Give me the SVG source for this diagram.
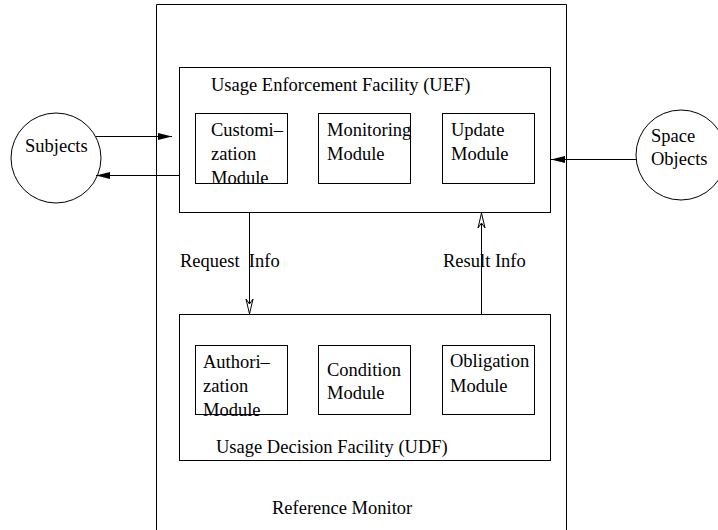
<svg xmlns="http://www.w3.org/2000/svg" width="718" height="530" viewBox="0 0 718 530">
<style>
  text { font-family: "Liberation Serif", "Times New Roman", serif; font-size: 18.5px; fill: #000; }
  .box { fill: none; stroke: #000; stroke-width: 1; }
  .ln { fill: none; stroke: #000; stroke-width: 1; }
</style>
<defs>
  <marker id="solid" viewBox="-15 -5 16 10" refX="0" refY="0" markerWidth="16" markerHeight="10" markerUnits="userSpaceOnUse" orient="auto">
    <path d="M-14,-3.5 L0,0 L-14,3.5 Z" fill="#000"/>
  </marker>
  <marker id="open" viewBox="-16 -5 17 10" refX="0" refY="0" markerWidth="17" markerHeight="10" markerUnits="userSpaceOnUse" orient="auto">
    <path d="M-15,-3.5 L0,0 L-15,3.5 L-10,0 Z" fill="#fff" stroke="#000" stroke-width="1"/>
  </marker>
</defs>
<rect width="718" height="530" fill="#fff"/>

<g id="reference-monitor">
  <path class="box" d="M156.5,540 V4.5 H566.5 V540"/>
  <text x="272" y="514">Reference Monitor</text>
</g>

<g id="subjects">
  <circle class="box" cx="56" cy="158" r="45"/>
  <text x="25" y="152">Subjects</text>
</g>

<g id="space-objects">
  <circle class="box" cx="681" cy="155" r="45"/>
  <text x="651" y="142">Space</text>
  <text x="651" y="165">Objects</text>
</g>

<g id="uef">
  <rect class="box" x="179.5" y="67.5" width="371" height="145"/>
  <text x="211" y="91">Usage Enforcement Facility (UEF)</text>
</g>

<g id="customization-module">
  <rect class="box" x="195.5" y="113.5" width="92" height="70"/>
  <text x="211" y="136">Customi–</text>
  <text x="211" y="160">zation</text>
  <text x="211" y="184">Module</text>
</g>

<g id="monitoring-module">
  <rect class="box" x="318.5" y="113.5" width="92" height="70"/>
  <text x="327" y="136">Monitoring</text>
  <text x="327" y="160">Module</text>
</g>

<g id="update-module">
  <rect class="box" x="442.5" y="113.5" width="92" height="70"/>
  <text x="451" y="136">Update</text>
  <text x="451" y="160">Module</text>
</g>

<g id="udf">
  <rect class="box" x="179.5" y="314.5" width="371" height="146"/>
  <text x="216" y="453">Usage Decision Facility (UDF)</text>
</g>

<g id="authorization-module">
  <rect class="box" x="195.5" y="345.5" width="92" height="69"/>
  <text x="203" y="368">Authori–</text>
  <text x="203" y="392">zation</text>
  <text x="203" y="416">Module</text>
</g>

<g id="condition-module">
  <rect class="box" x="318.5" y="345.5" width="92" height="69"/>
  <text x="327" y="376">Condition</text>
  <text x="327" y="399">Module</text>
</g>

<g id="obligation-module">
  <rect class="box" x="442.5" y="345.5" width="92" height="69"/>
  <text x="450" y="367">Obligation</text>
  <text x="450" y="392">Module</text>
</g>

<g id="connectors">
  <line class="ln" x1="96" y1="136.5" x2="172" y2="136.5" marker-end="url(#solid)"/>
  <line class="ln" x1="179.5" y1="175.5" x2="96" y2="175.5" marker-end="url(#solid)"/>
  <line class="ln" x1="636" y1="159.5" x2="551" y2="159.5" marker-end="url(#solid)"/>
  <line class="ln" x1="249.5" y1="212.5" x2="249.5" y2="314" marker-end="url(#open)"/>
  <line class="ln" x1="481.5" y1="314.5" x2="481.5" y2="213" marker-end="url(#open)"/>
  <text x="180" y="267" xml:space="preserve">Request  Info</text>
  <text x="443" y="267">Result Info</text>
</g>
</svg>
